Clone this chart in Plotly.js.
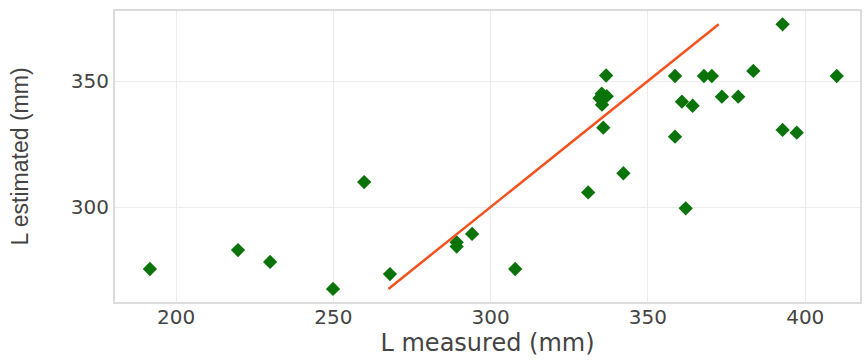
<!DOCTYPE html>
<html>
<head>
<meta charset="utf-8">
<script src="https://cdn.plot.ly/plotly-3.0.1.min.js"></script>
<style>html,body{margin:0;padding:0;background:#fff;}#chart{width:864px;height:360px;}</style>
</head>
<body>
<div id="chart"></div>
<script>
const measured = [191.7, 219.7, 229.9, 249.9, 259.8, 268.0, 289.2, 289.2, 294.1, 307.8,
  331.0, 342.2, 336.7, 335.3, 336.9, 334.6, 335.4, 335.8, 358.6, 358.6, 360.8, 364.2,
  362.0, 367.8, 370.3, 373.5, 378.7, 383.5, 392.8, 392.8, 397.3, 410.0];
const estimated = [275.4, 282.9, 278.2, 267.5, 309.9, 273.4, 286.0, 284.3, 289.3, 275.4,
  305.8, 313.4, 352.2, 345.0, 344.0, 343.2, 340.6, 331.5, 352.0, 327.9, 341.8, 340.2,
  299.5, 352.0, 352.0, 343.8, 343.8, 354.0, 372.5, 330.6, 329.5, 352.0];
const fitX = [267.5, 372.5];
const fitY = [267.5, 372.5];

const traces = [
  {x: measured, y: estimated, type: 'scatter', mode: 'markers',
   marker: {symbol: 'diamond', size: 11, color: '#0a730a'}, showlegend: false},
  {x: fitX, y: fitY, type: 'scatter', mode: 'lines',
   line: {color: '#f4511e', width: 2.5}, showlegend: false}
];
const layout = {
  width: 864, height: 360,
  margin: {l: 115, r: 4, t: 11, b: 58},
  paper_bgcolor: '#fff', plot_bgcolor: '#fff',
  font: {family: 'DejaVu Sans, sans-serif', color: '#444'},
  xaxis: {range: [180.6, 417.4], tickvals: [200, 250, 300, 350, 400],
    showgrid: true, gridcolor: '#ececec', gridwidth: 1, zeroline: false,
    showline: true, mirror: true, linecolor: '#dcdcdc', linewidth: 2,
    ticks: '', ticklabelstandoff: -4, tickfont: {size: 20, color: '#444'},
    title: {text: 'L measured (mm)', font: {size: 24, color: '#444'}, standoff: 4}},
  yaxis: {range: [262.3, 377.8], tickvals: [300, 350],
    showgrid: true, gridcolor: '#ececec', gridwidth: 1, zeroline: false,
    showline: true, mirror: true, linecolor: '#dcdcdc', linewidth: 2,
    ticks: '', ticklen: 0, tickfont: {size: 20, color: '#444'},
    title: {text: 'L estimated (mm)', font: {family: 'Liberation Sans Narrow, Liberation Sans, sans-serif', size: 23, color: '#444'}, standoff: 36}}
};
Plotly.newPlot('chart', traces, layout, {displayModeBar: false, staticPlot: true});
</script>
</body>
</html>
